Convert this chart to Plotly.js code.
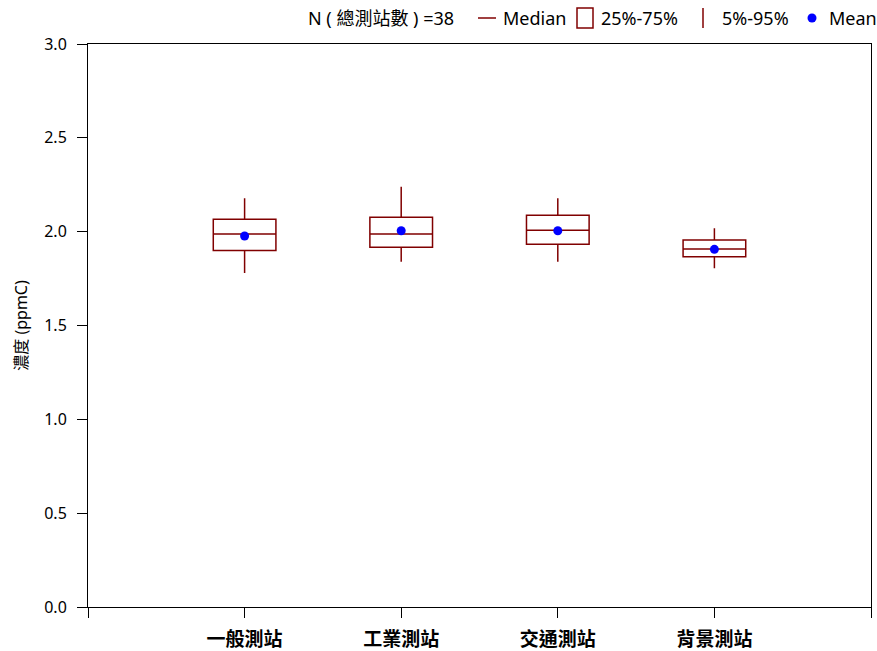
<!DOCTYPE html>
<html>
<head>
<meta charset="utf-8">
<script src="https://cdn.plot.ly/plotly-3.0.1.min.js"></script>
<style>html,body{margin:0;padding:0;background:#fff;}#chart{width:877px;height:651px;}</style>
</head>
<body>
<div id="chart"></div>
<script>
const categories = ['一般測站', '工業測站', '交通測站', '背景測站'];
const p5 = [1.78, 1.84, 1.84, 1.805];
const q1 = [1.90, 1.917, 1.933, 1.867];
const median = [1.988, 1.988, 2.007, 1.908];
const q3 = [2.066, 2.077, 2.087, 1.956];
const p95 = [2.178, 2.24, 2.178, 2.018];
const means = [1.977, 2.005, 2.005, 1.906];
const yTicks = [0, 0.5, 1.0, 1.5, 2.0, 2.5, 3.0];

const positions = categories.map((c, i) => i);
const boxColor = '#800000';
const latin = 'Segoe UI, "Noto Sans", "Noto Sans CJK TC", sans-serif';

const traces = [{
  type: 'box',
  x: positions,
  q1: q1, median: median, q3: q3,
  lowerfence: p5, upperfence: p95,
  width: 0.4,
  whiskerwidth: 0,
  boxpoints: false,
  fillcolor: 'rgba(0,0,0,0)',
  line: {color: boxColor, width: 1.5},
  hoverinfo: 'skip',
  showlegend: false
}, {
  type: 'scatter',
  mode: 'markers',
  x: positions,
  y: means,
  marker: {color: '#0000ff', size: 9},
  showlegend: false,
  hoverinfo: 'skip'
}];

function px2x(px) { return (px - 88) / 783; }
function px2y(py) { return (607 - py) / 563; }

const legY = 18;
const annotations = [
  {text: 'N (\u00a0總測站數\u00a0) =38', x: px2x(306), y: px2y(legY)},
  {text: 'Median', x: px2x(501), y: px2y(legY)},
  {text: '25%-75%', x: px2x(599), y: px2y(legY)},
  {text: '5%-95%', x: px2x(720), y: px2y(legY)},
  {text: 'Mean', x: px2x(827), y: px2y(legY)}
].map(a => Object.assign({xref: 'paper', yref: 'paper', xanchor: 'left', yanchor: 'middle', showarrow: false,
  font: {family: latin, size: 18, color: '#000'}}, a));

const shapes = [
  {type: 'line', xref: 'paper', yref: 'paper', x0: px2x(478), x1: px2x(496), y0: px2y(legY), y1: px2y(legY), line: {color: boxColor, width: 1.5}},
  {type: 'rect', xref: 'paper', yref: 'paper', x0: px2x(577), x1: px2x(593), y0: px2y(8), y1: px2y(28), line: {color: boxColor, width: 1.5}},
  {type: 'line', xref: 'paper', yref: 'paper', x0: px2x(703), x1: px2x(703), y0: px2y(8), y1: px2y(28), line: {color: boxColor, width: 1.5}},
  {type: 'circle', xref: 'paper', yref: 'paper', xsizemode: 'pixel', ysizemode: 'pixel', xanchor: px2x(812), yanchor: px2y(legY),
    x0: -4.5, x1: 4.5, y0: -4.5, y1: 4.5, fillcolor: '#0000ff', line: {color: '#0000ff', width: 0}}
];

const layout = {
  width: 877, height: 651,
  margin: {l: 88, r: 6, t: 44, b: 44, pad: 0},
  paper_bgcolor: '#fff', plot_bgcolor: '#fff',
  showlegend: false,
  xaxis: {
    range: [-1, 4],
    tickmode: 'array',
    tickvals: [-1].concat(positions, [4]),
    ticktext: [''].concat(categories.map(c => '<b>' + c + '</b>'), ['']),
    ticks: 'outside', ticklen: 10, tickwidth: 1, tickcolor: '#000',
    ticklabelstandoff: 5,
    showline: true, linecolor: '#000', linewidth: 1, mirror: true,
    showgrid: false, zeroline: false,
    tickfont: {family: '"Noto Sans CJK TC", sans-serif', size: 19, color: '#000'}
  },
  yaxis: {
    range: [0, 3],
    tickmode: 'array',
    tickvals: yTicks,
    ticktext: yTicks.map(v => v.toFixed(1)),
    ticks: 'outside', ticklen: 10, tickwidth: 1, tickcolor: '#000',
    ticklabelstandoff: 7,
    showline: true, linecolor: '#000', linewidth: 1, mirror: true,
    showgrid: false, zeroline: false,
    tickfont: {family: latin, size: 16, color: '#000'},
    title: {text: '濃度 (ppmC)', font: {family: latin, size: 16, color: '#000'}, standoff: 12}
  },
  annotations: annotations,
  shapes: shapes
};

Plotly.newPlot('chart', traces, layout, {displayModeBar: false, staticPlot: true});
</script>
</body>
</html>
